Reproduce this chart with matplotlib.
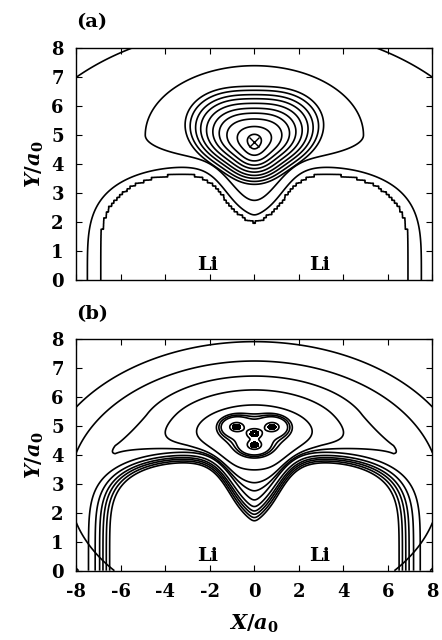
import numpy as np
import matplotlib
matplotlib.use("Agg")
import matplotlib.pyplot as plt

plt.rcParams.update({
    "font.family": "DejaVu Serif",
    "font.weight": "bold",
    "axes.unicode_minus": False,
    "mathtext.fontset": "custom",
    "mathtext.rm": "DejaVu Serif:bold",
    "mathtext.it": "DejaVu Serif:italic:bold",
    "mathtext.bf": "DejaVu Serif:bold",
})

# ---- values (units of a0) ----
li_x = [-3.0, 3.0]                      # Li nuclei
li_label_x = [-2.1, 2.95]
li_label_y = 0.52

# panel (a)
a_li_cross_x = [-7.5]                   # smooth Li contour meets Y = 0
a_li_step_cross_x = [-6.95]             # stepped Li contour meets Y = 0
a_ring_tops = [6.69, 6.55, 6.40, 6.26, 6.10, 5.93, 5.76, 5.56, 5.30, 5.03]
a_centre = [0.0, 4.77]
a_arc_point = [-8.0, 7.0]

# panel (b)
b_li_cross_x = [-7.45, -7.15, -6.95, -6.80, -6.65, -6.50]
b_arc_tops = [7.92, 7.25]
b_bowl_tops = [6.73, 6.25, 5.73]
b_tri_tops = [5.42, 5.33, 5.24]
b_atom_x = [-0.8, 0.8, 0.0, 0.0]
b_atom_y = [4.97, 4.97, 4.35, 4.74]
b_ring_top = [4.91]
b_dark_top = [4.84, 4.765]


def li_field(x, y, ax_, by_, py, kappa, yref, sig=1.4, k=0.05):
    # distance-like field round the two Li cores, pulled down between them
    d0 = ((x - li_x[0]) / ax_) ** 2 + (np.abs(y) / by_) ** py
    d1 = ((x - li_x[1]) / ax_) ** 2 + (np.abs(y) / by_) ** py
    dmin = -k * np.logaddexp(-d0 / k, -d1 / k)
    return dmin + kappa * np.exp(-(x / sig) ** 2) * (y - yref)


def li_a(x, y):
    return li_field(x, y, 4.5, 3.9, 4.0, 0.752, 1.612)


def li_b(x, y):
    return li_field(x, y, 4.45, 4.1, 5.2, 0.45, 1.31)


def env(x, y):
    return np.hypot(x / 1.9, y - 2.87)


def rings_a(x, y):
    x0, y0 = a_centre
    r_iso = np.hypot(x - x0, y - y0)
    blend = np.tanh(r_iso / 0.8)
    u = (x - x0) / (1.0 + 0.5 * blend)
    v = y - y0
    th = np.arctan2(v, u)
    R = 1.82 + 0.41 * np.sin(th) + 0.13 * np.cos(2 * th) + 0.17 * np.sin(3 * th)
    R = 1.94 + (R - 1.94) * blend
    return np.exp(-np.hypot(u, v) / R / 0.3)


def shell_a(x, y):
    sy_low = 0.9 + 1.35 * np.exp(-(x / 1.42) ** 2)
    sy = np.where(y >= 5.0, 2.4, sy_low)
    return np.hypot(x / 4.9, (y - 5.0) / sy)


def atoms_b(x, y):
    tot = 0.0
    for xa, ya in zip(b_atom_x, b_atom_y):
        r = np.hypot((x - xa) / 2.0, y - ya)
        tot = tot + np.exp(-r / 0.08) + 0.05 * np.exp(-r / 0.25)
    return tot


def probe(f, xs, ys):
    return np.sort(np.atleast_1d(f(np.asarray(xs, float), np.asarray(ys, float))))


x = np.linspace(-8, 8, 801)
y = np.linspace(0, 8, 401)
X, Y = np.meshgrid(x, y)
i0 = np.argmin(np.abs(x))
Xq = np.round(X / 0.12) * 0.12
Yq = np.round(Y / 0.1) * 0.1

# bowl-shaped contours of (b): damped close above the outer Li surface
Gb = li_b(X, Y)
y_surf = np.array([np.interp(1.0, Gb[:, j], y) for j in range(len(x))])
h = np.clip(Y - y_surf[None, :], 0, None)
ramp = np.clip((5.4 - Y) / 1.4, 0, 1) ** 1.5
flare = 0.85 * ramp * np.clip((np.abs(X) - 3.0) / 3.25, 0, 1)
sx = 2.45 + flare
bowl = np.tanh(h / 0.5) * np.exp(-np.hypot(X / sx, Y - 4.6) / 0.5)
bowl_lev = np.sort(np.interp(b_bowl_tops, y, bowl[:, i0]))

xf = np.linspace(-2.2, 2.2, 881)
yf = np.linspace(3.4, 6.0, 521)
XF, YF = np.meshgrid(xf, yf)

kw = dict(colors="k", linewidths=1.2, linestyles="solid")

fig = plt.figure(figsize=(4.42, 6.40), dpi=100)
axA = fig.add_axes([0.1725, 0.5625, 0.806, 0.362])
axB = fig.add_axes([0.1725, 0.1083, 0.806, 0.3615])

# ---- (a) ----
axA.contour(X, Y, env(X, Y), levels=probe(env, [a_arc_point[0]], [a_arc_point[1]]), **kw)
axA.contour(X, Y, li_a(X, Y), levels=probe(li_a, a_li_cross_x, [0.0]), **kw)
axA.contour(X, Y, li_a(Xq, Yq), levels=probe(li_a, a_li_step_cross_x, [0.0]), **kw)
axA.contour(X, Y, shell_a(X, Y), levels=[1.0], **kw)
axA.contour(X, Y, rings_a(X, Y),
            levels=probe(rings_a, np.zeros(len(a_ring_tops)), a_ring_tops), **kw)
axA.plot([a_centre[0]], [a_centre[1]], marker="x", color="k", ms=7, mew=1.0)

# ---- (b) ----
axB.contour(X, Y, env(X, Y), levels=probe(env, np.zeros(2), b_arc_tops), **kw)
axB.contour(X, Y, Gb,
            levels=probe(li_b, b_li_cross_x, np.zeros(len(b_li_cross_x))), **kw)
axB.contour(X, Y, bowl, levels=bowl_lev, **kw)
A = atoms_b(XF, YF)
tri_lev = probe(atoms_b, np.zeros(3), b_tri_tops)
ring_lev = probe(atoms_b, [0.0], b_ring_top)
axB.contour(XF, YF, A, levels=np.concatenate([tri_lev, ring_lev]), **kw)
dark = probe(atoms_b, [0.0, 0.0], b_dark_top)
axB.contourf(XF, YF, A, levels=dark, colors="k")

for ax in (axA, axB):
    ax.set_xlim(-8, 8)
    ax.set_ylim(0, 8)
    ax.set_xticks(range(-8, 9, 2))
    ax.set_yticks(range(0, 9))
    ax.tick_params(direction="in", top=True, right=True, length=4, width=0.8,
                   labelsize=13, pad=9)
    for s in ax.spines.values():
        s.set_linewidth(1.0)
    for lx in li_label_x:
        ax.text(lx, li_label_y, "Li", ha="center", va="center", fontsize=14,
                fontweight="bold")
    ax.set_ylabel(r"$Y/a_0$", fontsize=15, labelpad=4)

axA.tick_params(labelbottom=False)
axB.set_xlabel(r"$X/a_0$", fontsize=15, labelpad=8)

fig.text(0.1725, 0.966, "(a)", fontsize=14, fontweight="bold", va="center")
fig.text(0.1725, 0.509, "(b)", fontsize=14, fontweight="bold", va="center")

fig.savefig("out.png", dpi=100)
